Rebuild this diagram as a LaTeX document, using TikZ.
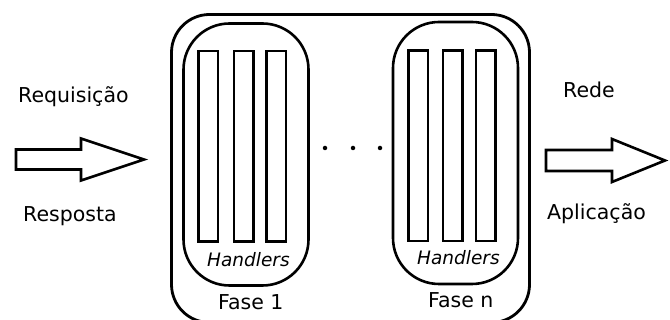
\documentclass[tikz,border=0pt]{standalone}
\usepackage{fontspec}
\setmainfont{DejaVu Sans}
\begin{document}
\begin{tikzpicture}[x=1pt,y=-1pt,
  txt/.style={font=\fontsize{20.5}{24}\selectfont, inner sep=0pt, anchor=base west},
  itxt/.style={txt, font=\fontsize{18.5}{22}\selectfont\itshape},
  outerbox/.style={draw, line width=2.8pt, rounded corners=38pt, inner sep=0pt},
  phasebox/.style={draw, line width=2.6pt, rounded corners=46pt, inner sep=0pt,
                   minimum width=125pt, minimum height=262pt},
  handler/.style={draw, line width=2.5pt, inner sep=0pt,
                  minimum width=19.5pt, minimum height=190.5pt},
  flow/.style={draw, line width=2.6pt, line join=miter, fill=white},
  dot/.style={circle, fill, inner sep=0pt, minimum size=4.5pt}]
\useasboundingbox (0,0) rectangle (670,320);
\clip (0,0) rectangle (670,320);

% the server frame, running past the lower edge
\node[outerbox, minimum width=358pt, minimum height=308pt] (server) at (350.5,168.5) {};

% phase 1 with its handlers
\node[phasebox] (phase1) at (246,154.5) {};
\node[handler] (h11) at (208,146.5) {};
\node[handler] (h12) at (243.5,146.5) {};
\node[handler] (h13) at (276,146.5) {};
\node[itxt] (hl1) at (207,267) {Handlers};
\node[txt] (f1) at (218,310) {Fase 1};

% phase n with its handlers
\node[phasebox] (phasen) at (455.5,153) {};
\node[handler] (hn1) at (418,146) {};
\node[handler] (hn2) at (452.5,146) {};
\node[handler] (hn3) at (485.5,146) {};
\node[itxt] (hln) at (417,265) {Handlers};
\node[txt] (fn) at (428,308) {Fase n};

% ellipsis between the phases
\node[dot] (d1) at (325,148) {};
\node[dot] (d2) at (353,148) {};
\node[dot] (d3) at (380,148) {};

% incoming block arrow
\draw[flow] (16,149.5) -- (81,149.5) -- (81,138.5) -- (144,159.5) -- (81,180.5)
  -- (81,169.5) -- (16,169.5) -- cycle;
\node[txt] (req) at (18,103) {Requisição};
\node[txt] (resp) at (23,222) {Resposta};

% outgoing block arrow
\draw[flow] (546,150) -- (612,150) -- (612,139) -- (665,160.5) -- (612,182)
  -- (612,171) -- (546,171) -- cycle;
\node[txt] (rede) at (563,98) {Rede};
\node[txt] (app) at (547,220) {Aplicação};
\end{tikzpicture}
\end{document}
